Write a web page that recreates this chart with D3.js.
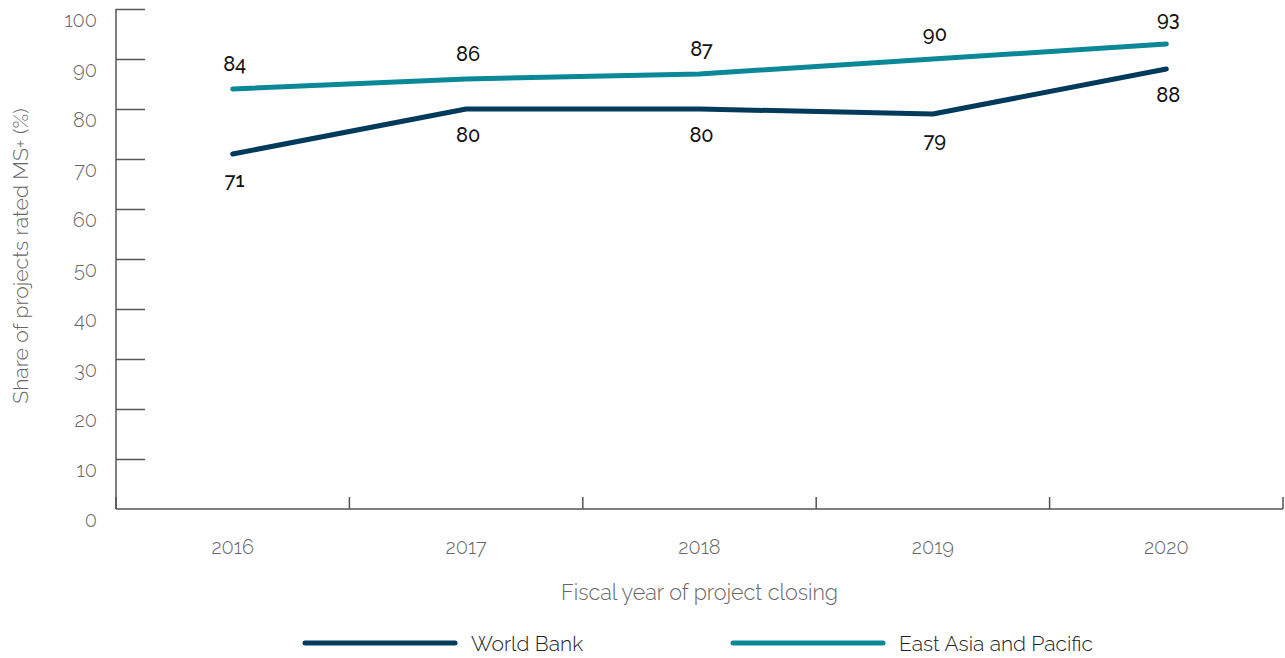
<!DOCTYPE html>
<html>
<head>
<meta charset="utf-8">
<script src="https://cdn.jsdelivr.net/npm/d3@7"></script>
<style>
  body { margin: 0; background: #fff; }
  svg text { font-family: Raleway, Lato, "Open Sans", sans-serif; }
</style>
</head>
<body>
<svg id="chart" width="1285" height="658"></svg>
<script>
// data
var years = ["2016", "2017", "2018", "2019", "2020"];
var worldBank = [71, 80, 80, 79, 88];
var eastAsia = [84, 86, 87, 90, 93];
var yTicks = [0, 10, 20, 30, 40, 50, 60, 70, 80, 90, 100];

var series = [
  {name: "World Bank", values: worldBank, color: "#023a5c", labelBelow: true},
  {name: "East Asia and Pacific", values: eastAsia, color: "#0a8898", labelBelow: false}
];

var margin = {top: 9, right: 2, bottom: 149, left: 116},
    width = 1285 - margin.left - margin.right,
    height = 658 - margin.top - margin.bottom;

var svg = d3.select("#chart")
  .append("g")
  .attr("transform", "translate(" + margin.left + "," + margin.top + ")");

var x = d3.scaleBand().domain(years).range([0, width]);
var y = d3.scaleLinear().domain([0, 100]).range([height, 0]);

// y axis: ticks point into the plot
var yAxis = svg.append("g")
  .call(d3.axisRight(y).tickValues(yTicks).tickSize(29).tickFormat(d3.format("d")));
yAxis.select(".domain").attr("stroke", "#555").attr("stroke-width", 1.5).attr("d", "M0,0V" + height);
yAxis.selectAll(".tick line").attr("stroke", "#555").attr("stroke-width", 1.5)
  .attr("display", function (d) { return d === 0 ? "none" : null; });
yAxis.selectAll(".tick text")
  .attr("x", -19).attr("y", 10).attr("text-anchor", "end").attr("dy", "0.35em")
  .attr("fill", "#666").style("font-size", "20px").style("font-weight", 300);

// x axis with ticks between the years
var xAxis = svg.append("g").attr("transform", "translate(0," + height + ")");
xAxis.append("line").attr("x1", 0).attr("x2", width)
  .attr("stroke", "#555").attr("stroke-width", 1.5);
xAxis.selectAll(".sep")
  .data(d3.range(years.length + 1))
  .enter().append("line")
  .attr("x1", function (i) { return i * x.step(); })
  .attr("x2", function (i) { return i * x.step(); })
  .attr("y1", -12).attr("y2", 0)
  .attr("stroke", "#555").attr("stroke-width", 1.5);
xAxis.selectAll(".lab")
  .data(years)
  .enter().append("text")
  .attr("x", function (d) { return x(d) + x.bandwidth() / 2; })
  .attr("y", 45)
  .attr("text-anchor", "middle")
  .attr("fill", "#666").style("font-size", "20px").style("font-weight", 300)
  .text(function (d) { return d; });

// axis titles
svg.append("text")
  .attr("x", width / 2 - 0)
  .attr("y", height + 91)
  .attr("text-anchor", "middle")
  .attr("fill", "#666").style("font-size", "21.5px").style("font-weight", 300)
  .text("Fiscal year of project closing");

svg.append("text")
  .attr("transform", "rotate(-90)")
  .attr("x", -height / 2 + 3)
  .attr("y", -margin.left + 28)
  .attr("text-anchor", "middle")
  .attr("fill", "#666").style("font-size", "21.2px").style("font-weight", 300)
  .text("Share of projects rated MS+ (%)");

// lines
var line = d3.line()
  .x(function (d, i) { return x(years[i]) + x.bandwidth() / 2; })
  .y(function (d) { return y(d); });

series.forEach(function (s) {
  svg.append("path")
    .datum(s.values)
    .attr("d", line)
    .attr("fill", "none")
    .attr("stroke", s.color)
    .attr("stroke-width", 5)
    .attr("stroke-linecap", "round")
    .attr("stroke-linejoin", "round");

  svg.selectAll(null)
    .data(s.values)
    .enter().append("text")
    .attr("x", function (d, i) { return x(years[i]) + x.bandwidth() / 2 + 2; })
    .attr("y", function (d) { return s.labelBelow ? y(d) + 33 : y(d) - 18; })
    .attr("text-anchor", "middle")
    .attr("fill", "#111").style("font-size", "20px").style("font-weight", 500)
    .text(function (d) { return d; });
});

// legend
var legend = d3.select("#chart").append("g");
var legendX = [305, 733];
series.forEach(function (s, i) {
  legend.append("line")
    .attr("x1", legendX[i]).attr("x2", legendX[i] + 150)
    .attr("y1", 643).attr("y2", 643)
    .attr("stroke", s.color).attr("stroke-width", 5).attr("stroke-linecap", "round");
  legend.append("text")
    .attr("x", legendX[i] + 166).attr("y", 651)
    .attr("fill", "#222").style("font-size", "21px").style("font-weight", 300)
    .text(s.name);
});
</script>
</body>
</html>
